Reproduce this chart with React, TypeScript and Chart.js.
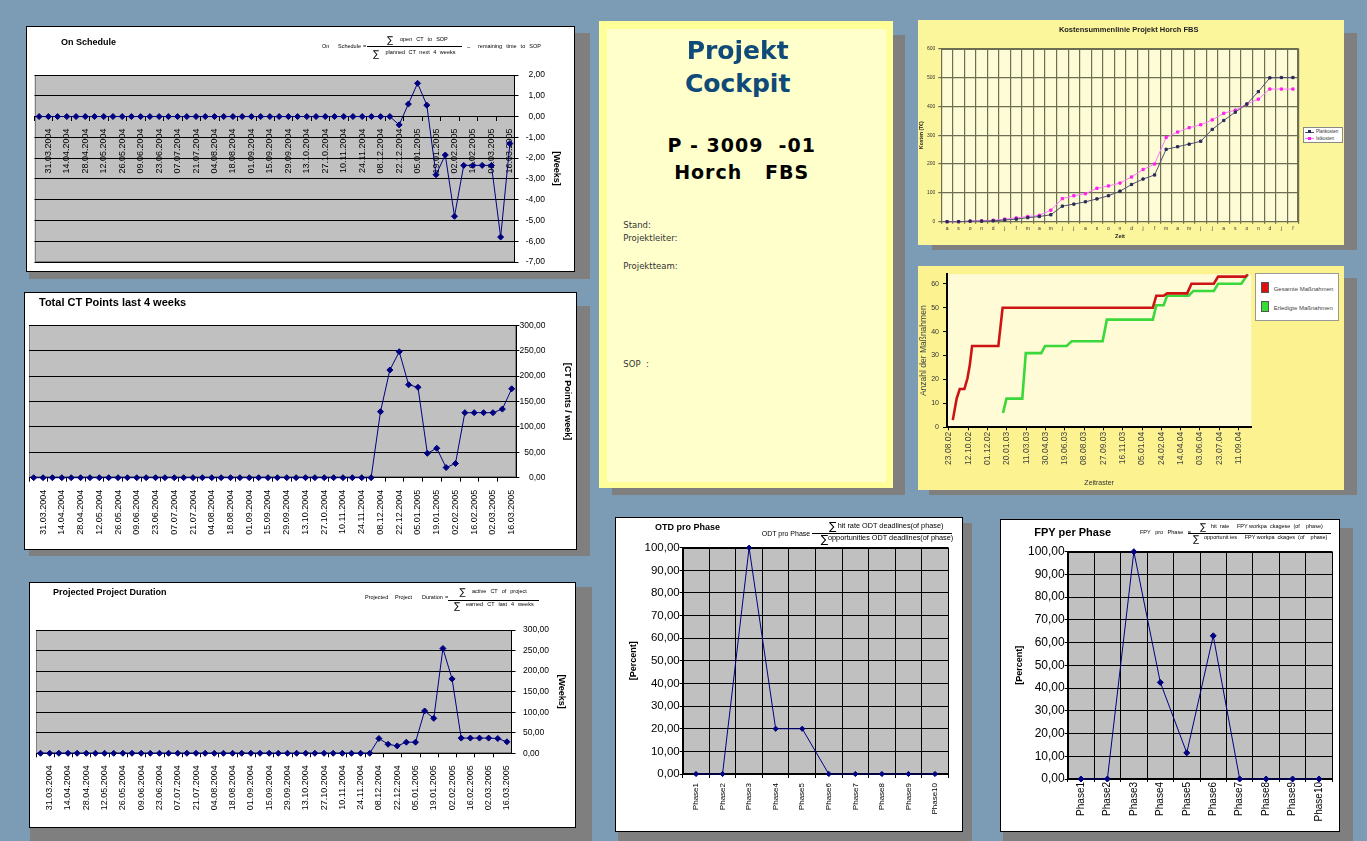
import React, { useEffect, useRef } from 'react';
import { Chart, registerables } from 'chart.js';

Chart.register(...registerables);

const ARIAL = "'Liberation Sans', Arial, Helvetica, sans-serif";
const DEJAVU = "'DejaVu Sans', Verdana, sans-serif";
Chart.defaults.font.family = ARIAL;
Chart.defaults.color = '#000';

// ---------------- data ----------------
const weekDates = [
  '24.03.2004', '31.03.2004', '07.04.2004', '14.04.2004', '21.04.2004', '28.04.2004', '05.05.2004', '12.05.2004',
  '19.05.2004', '26.05.2004', '02.06.2004', '09.06.2004', '16.06.2004', '23.06.2004', '30.06.2004', '07.07.2004',
  '14.07.2004', '21.07.2004', '28.07.2004', '04.08.2004', '11.08.2004', '18.08.2004', '25.08.2004', '01.09.2004',
  '08.09.2004', '15.09.2004', '22.09.2004', '29.09.2004', '06.10.2004', '13.10.2004', '20.10.2004', '27.10.2004',
  '03.11.2004', '10.11.2004', '17.11.2004', '24.11.2004', '01.12.2004', '08.12.2004', '15.12.2004', '22.12.2004',
  '29.12.2004', '05.01.2005', '12.01.2005', '19.01.2005', '26.01.2005', '02.02.2005', '09.02.2005', '16.02.2005',
  '23.02.2005', '02.03.2005', '09.03.2005', '16.03.2005',
];

const onScheduleWeeks = [
  0, 0, 0, 0, 0, 0, 0, 0, 0, 0, 0, 0, 0,
  0, 0, 0, 0, 0, 0, 0, 0, 0, 0, 0, 0, 0,
  0, 0, 0, 0, 0, 0, 0, 0, 0, 0, 0, 0, 0,
  -0.4, 0.6, 1.6, 0.55, -2.8, -1.85, -4.8, -2.35, -2.35, -2.35, -2.35, -5.8, -1.3,
];

const totalCtPoints = [
  0, 0, 0, 0, 0, 0, 0, 0, 0, 0, 0, 0, 0,
  0, 0, 0, 0, 0, 0, 0, 0, 0, 0, 0, 0, 0,
  0, 0, 0, 0, 0, 0, 0, 0, 0, 0, 0,
  130, 212, 248, 183, 178, 48, 58, 20, 28, 128, 128, 128, 128, 135, 175,
];

const projectedDuration = [
  0, 0, 0, 0, 0, 0, 0, 0, 0, 0, 0, 0, 0,
  0, 0, 0, 0, 0, 0, 0, 0, 0, 0, 0, 0, 0,
  0, 0, 0, 0, 0, 0, 0, 0, 0, 0, 0,
  36, 22, 18, 27, 27, 103, 85, 255, 181, 37, 37, 37, 37, 36, 28,
];

const phaseLabels = ['Phase1', 'Phase2', 'Phase3', 'Phase4', 'Phase5', 'Phase6', 'Phase7', 'Phase8', 'Phase9', 'Phase10'];
const otdPercent = [0, 0, 100, 20, 20, 0, 0, 0, 0, 0];
const fpyPercent = [0, 0, 100, 42.5, 11.5, 63, 0, 0, 0, 0];

const kostenMonths = [
  'a', 's', 'o', 'n', 'd', 'j', 'f', 'm', 'a', 'm', 'j', 'j', 'a', 's', 'o', 'n',
  'd', 'j', 'f', 'm', 'a', 'm', 'j', 'j', 'a', 's', 'o', 'n', 'd', 'j', 'f',
];
const planKosten = [0, 0, 2, 2, 3, 6, 9, 14, 18, 24, 54, 61, 69, 79, 90, 106, 129, 148, 162, 251, 260, 269, 279, 320, 351, 380, 408, 451, 499, 500, 500];
const istKosten = [0, 0, 2, 3, 5, 9, 13, 18, 22, 40, 80, 90, 97, 116, 124, 134, 155, 181, 200, 292, 311, 326, 336, 353, 376, 387, 408, 425, 460, 460, 460];

const massTickDays = [0, 50, 100, 150, 200, 250, 300, 350, 400, 450, 500, 550, 600, 650, 700, 750];
const massTickLabels = [
  '23.08.02', '12.10.02', '01.12.02', '20.01.03', '11.03.03', '30.04.03', '19.06.03', '08.08.03',
  '27.09.03', '16.11.03', '05.01.04', '24.02.04', '14.04.04', '03.06.04', '23.07.04', '11.09.04',
];
const gesamtDays = [10, 20, 28, 40, 48, 54, 60, 128, 139, 528, 537, 556, 565, 617, 628, 686, 697, 768, 774];
const gesamtCount = [3, 12, 16, 16, 20.5, 26, 34, 34, 50, 50, 55, 55, 56, 56, 60, 60, 63, 63, 64];
const erledigtDays = [140, 149, 190, 199, 239, 249, 305, 318, 398, 409, 528, 537, 556, 565, 621, 633, 686, 697, 757, 774];
const erledigtCount = [6, 12, 12, 31, 31, 34, 34, 36, 36, 45, 45, 51, 51, 55, 55, 57, 57, 60, 60, 64];

// ---------------- styling ----------------
const NAVY = '#000080';
const PLOT_GRAY = '#c0c0c0';
const PAGE_BG = 'rgb(124,155,181)';
const SHADOW = '#7f7f7f';
const fmt2 = (v: number) => v.toFixed(2).replace('.', ',');

const plotArea = {
  id: 'plotArea',
  beforeDraw(chart: any, _args: any, opts: any) {
    const { ctx, chartArea: a } = chart;
    if (!a) return;
    ctx.save();
    if (opts.fill) {
      ctx.fillStyle = opts.fill;
      ctx.fillRect(a.left, a.top, a.right - a.left, a.bottom - a.top);
    }
    if (opts.stroke) {
      ctx.strokeStyle = opts.stroke;
      ctx.lineWidth = 1;
      ctx.strokeRect(Math.round(a.left) + 0.5, Math.round(a.top) + 0.5, Math.round(a.right - a.left) - 1, Math.round(a.bottom - a.top) - 1);
    }
    ctx.restore();
  },
};

const excelLine = (data: number[], r: number) => ({
  data,
  borderColor: NAVY,
  backgroundColor: NAVY,
  borderWidth: 1,
  pointStyle: 'rectRot',
  pointRadius: r,
  pointBorderWidth: 1,
  pointBorderColor: NAVY,
  pointBackgroundColor: NAVY,
  tension: 0,
  clip: false,
});

function weekChart(values: number[], o: any) {
  return {
    type: 'line',
    data: { labels: weekDates, datasets: [excelLine(values, 3)] },
    options: {
      responsive: false,
      animation: false,
      events: [],
      layout: { padding: o.pad },
      plugins: { legend: { display: false }, tooltip: { enabled: false }, plotArea: { fill: PLOT_GRAY, stroke: '#808080' } },
      scales: {
        x: {
          type: 'category',
          position: o.xAtZero ? { y: 0 } : 'bottom',
          offset: true,
          grid: {
            offset: true,
            drawOnChartArea: false,
            drawTicks: true,
            tickLength: 4,
            color: (c: any) => (c.index % 2 === 0 ? '#000' : 'rgba(0,0,0,0)'),
          },
          border: { display: true, color: '#000', width: 1 },
          ticks: {
            autoSkip: false,
            minRotation: 90,
            maxRotation: 90,
            padding: 8,
            color: '#000',
            font: { size: 9 },
            callback: (_v: any, i: number) => (i % 2 === 1 ? weekDates[i] : ''),
          },
          afterFit: o.xHeight ? (s: any) => { s.height = o.xHeight; } : undefined,
        },
        y: {
          position: 'right',
          min: o.yMin,
          max: o.yMax,
          grid: { color: '#000', lineWidth: 1, tickLength: o.tickLen },
          border: { color: '#000' },
          ticks: {
            stepSize: o.step,
            crossAlign: o.align,
            padding: o.tickPad,
            color: '#000',
            font: { size: 8.5 },
            callback: (v: any) => fmt2(Number(v)),
          },
          title: {
            display: true,
            text: o.yTitle,
            color: '#000',
            font: { size: 9, weight: 'bold' },
            padding: { top: o.titlePad, bottom: 0 },
          },
          afterFit: (s: any) => { s.width = o.yWidth; },
        },
      },
    },
    plugins: [plotArea],
  };
}

function phaseChart(values: number[], o: any) {
  return {
    type: 'line',
    data: { labels: phaseLabels, datasets: [excelLine(values, o.pr)] },
    options: {
      responsive: false,
      animation: false,
      events: [],
      layout: { padding: o.pad },
      plugins: { legend: { display: false }, tooltip: { enabled: false }, plotArea: { fill: PLOT_GRAY, stroke: '#000' } },
      scales: {
        x: {
          type: 'category',
          offset: true,
          grid: { offset: true, color: '#000', tickLength: o.xTickLen },
          border: { color: '#000' },
          ticks: { autoSkip: false, minRotation: 90, maxRotation: 90, padding: o.xPad, color: '#000', font: { size: o.xFont } },
          afterFit: (s: any) => { s.height = o.xHeight; },
        },
        y: {
          position: 'left',
          min: 0,
          max: 100,
          grid: { color: '#000', tickLength: 3 },
          border: { color: '#000' },
          ticks: { stepSize: 10, padding: 0, color: '#000', font: { size: o.yFont }, callback: (v: any) => fmt2(Number(v)) },
          title: { display: true, text: '[Percent]', color: '#000', font: { size: 9, weight: 'bold' }, padding: { top: o.titlePad, bottom: 0 } },
          afterFit: (s: any) => { s.width = o.yWidth; },
        },
      },
    },
    plugins: [plotArea],
  };
}

const OLIVE = '#6e6e52';

function kostenChart() {
  return {
    type: 'line',
    data: {
      labels: kostenMonths,
      datasets: [
        { label: 'Plankosten', data: planKosten, borderColor: '#505070', backgroundColor: '#2a2a5a', pointBorderColor: '#2a2a5a', borderWidth: 1, pointStyle: 'rect', pointRadius: 1.6, tension: 0, clip: false },
        { label: 'Istkosten', data: istKosten, borderColor: '#ff77ff', backgroundColor: '#ff22ee', pointBorderColor: '#ff22ee', borderWidth: 1, pointStyle: 'rect', pointRadius: 1.6, tension: 0, clip: false },
      ],
    },
    options: {
      responsive: false,
      animation: false,
      events: [],
      layout: { padding: { left: 0, top: 28.7, right: 45.3, bottom: 0 } },
      plugins: { legend: { display: false }, tooltip: { enabled: false }, plotArea: { fill: '#fdfcd6', stroke: OLIVE } },
      scales: {
        x: {
          type: 'category',
          offset: true,
          grid: { offset: true, color: OLIVE, lineWidth: 1.2, tickLength: 2 },
          border: { color: OLIVE },
          ticks: { autoSkip: false, maxRotation: 0, minRotation: 0, padding: 2, color: '#333', font: { size: 5 } },
          title: { display: true, text: 'Zeit', color: '#222', font: { size: 5.5, weight: 'bold' }, padding: { top: 0, bottom: 5 } },
          afterFit: (s: any) => { s.height = 23.3; },
        },
        y: {
          min: 0,
          max: 600,
          grid: { color: OLIVE, lineWidth: 1.2, tickLength: 3 },
          border: { color: OLIVE },
          ticks: { stepSize: 100, padding: 3, color: '#333', font: { size: 5 } },
          title: { display: true, text: 'Kosten (T€)', color: '#222', font: { size: 5, weight: 'bold' }, padding: { top: 1, bottom: 0 } },
          afterFit: (s: any) => { s.width = 23.3; },
        },
      },
    },
    plugins: [plotArea],
  };
}

function massChart() {
  return {
    type: 'line',
    data: {
      datasets: [
        { label: 'Gesamte Maßnahmen', data: gesamtDays.map((d, i) => ({ x: d, y: gesamtCount[i] })), borderColor: '#cc1414', borderWidth: 2.6, pointRadius: 0, tension: 0 },
        { label: 'Erledigte Maßnahmen', data: erledigtDays.map((d, i) => ({ x: d, y: erledigtCount[i] })), borderColor: '#3ad83a', borderWidth: 2.6, pointRadius: 0, tension: 0 },
      ],
    },
    options: {
      responsive: false,
      animation: false,
      events: [],
      layout: { padding: { left: 0, top: 6.7, right: 92.7, bottom: 0 } },
      plugins: { legend: { display: false }, tooltip: { enabled: false }, plotArea: { fill: '#fffbd6' } },
      scales: {
        x: {
          type: 'linear',
          min: -5,
          max: 783,
          afterBuildTicks: (s: any) => { s.ticks = massTickDays.map((d) => ({ value: d })); },
          grid: { drawOnChartArea: false, tickLength: 3, color: '#000' },
          border: { color: '#000', width: 2 },
          ticks: {
            autoSkip: false,
            minRotation: 90,
            maxRotation: 90,
            padding: 1.5,
            color: '#444',
            font: { size: 8.5 },
            callback: (_v: any, i: number) => massTickLabels[i],
          },
          title: { display: true, text: 'Zeitraster', color: '#333', font: { size: 7 }, padding: { top: 0, bottom: 3.1 } },
          afterFit: (s: any) => { s.height = 62.7; },
        },
        y: {
          min: 0,
          max: 64,
          grid: { drawOnChartArea: false, tickLength: 4, color: '#000' },
          border: { color: '#000', width: 2 },
          ticks: { stepSize: 10, includeBounds: false, padding: 4, color: '#333', font: { size: 7 } },
          title: { display: true, text: 'Anzahl der Maßnahmen', color: '#444', font: { size: 8.5 }, padding: { top: 0.6, bottom: 0 } },
          afterFit: (s: any) => { s.width = 29; },
        },
      },
    },
    plugins: [plotArea],
  };
}

// ---------------- components ----------------
function ChartBox({ x, y, w, h, make }: { x: number; y: number; w: number; h: number; make: () => any }) {
  const ref = useRef<HTMLCanvasElement>(null);
  useEffect(() => {
    if (!ref.current) return;
    const chart = new Chart(ref.current, make() as any);
    return () => chart.destroy();
  }, []);
  return (
    <canvas
      ref={ref}
      width={w}
      height={h}
      style={{ position: 'absolute', left: x, top: y, width: w, height: h }}
    />
  );
}

function Box({ x, y, w, h, bg, border }: any) {
  return (
    <div
      style={{ position: 'absolute', left: x, top: y, width: w, height: h, background: bg, border, boxSizing: 'border-box' }}
    />
  );
}

function T({ x, y, s, b, c = '#000', f = ARIAL, center, ws, ls, children }: any) {
  return (
    <div
      style={{
        position: 'absolute',
        left: x,
        top: y,
        fontSize: s,
        fontWeight: b ? 700 : 400,
        color: c,
        fontFamily: f,
        whiteSpace: 'pre',
        lineHeight: 1,
        wordSpacing: ws,
        letterSpacing: ls,
        transform: center ? 'translate(-50%,-50%)' : 'translateY(-50%)',
      }}
    >
      {children}
    </div>
  );
}

function HLine({ x, y, w, c = '#000' }: any) {
  return <div style={{ position: 'absolute', left: x, top: y, width: w, height: 1, background: c }} />;
}

export default function App() {
  return (
    <div style={{ position: 'fixed', left: 0, top: 0, width: 1367, height: 841, background: PAGE_BG, overflow: 'hidden' }}>
      {/* shadows */}
      <Box x={29} y={33} w={561} h={246} bg={SHADOW} />
      <Box x={29} y={306} w={561} h={250} bg={SHADOW} />
      <Box x={30} y={587} w={562} h={254} bg={SHADOW} />
      <Box x={612} y={35} w={293} h={460} bg={SHADOW} />
      <Box x={932} y={33} w={425} h={217} bg={SHADOW} />
      <Box x={929} y={278} w={428} h={217} bg={SHADOW} />
      <Box x={618} y={523} w={354} h={318} bg={SHADOW} />
      <Box x={1003} y={528} w={350} h={313} bg={SHADOW} />

      {/* panels */}
      <Box x={26} y={26} w={549} h={246} bg="#fff" border="1px solid #000" />
      <Box x={24} y={292} w={553} h={258} bg="#fff" border="1px solid #000" />
      <Box x={29} y={582} w={547} h={246} bg="#fff" border="1px solid #000" />
      <Box x={599} y={21} w={294} h={467} bg="#ffff99" />
      <Box x={607} y={29} w={279} h={453} bg="#ffffcc" />
      <Box x={918} y={20} w={426} h={225} bg="#fbf59c" />
      <Box x={918} y={266} w={426} h={224} bg="#fcf290" />
      <Box x={615} y={517} w={348} h={315} bg="#fff" border="1px solid #000" />
      <Box x={1000} y={519} w={340} h={313} bg="#fff" border="1px solid #000" />

      {/* charts */}
      <ChartBox
        x={26} y={26} w={549} h={246}
        make={() => weekChart(onScheduleWeeks, {
          yMin: -7, yMax: 2, step: 1, yTitle: '[Weeks]', xAtZero: true,
          pad: { left: 8.5, top: 49, right: 30, bottom: 10 }, yWidth: 30.5, titlePad: -16.4,
          align: 'far', tickLen: 4, tickPad: 3,
        })}
      />
      <ChartBox
        x={24} y={292} w={553} h={258}
        make={() => weekChart(totalCtPoints, {
          yMin: 0, yMax: 300, step: 50, yTitle: '[CT Points / week]',
          pad: { left: 2, top: 33.3, right: 31.5, bottom: 0 }, yWidth: 29.1, xHeight: 72.3, titlePad: -26.9,
          align: 'far', tickLen: 3, tickPad: 0,
        })}
      />
      <ChartBox
        x={29} y={582} w={547} h={246}
        make={() => weekChart(projectedDuration, {
          yMin: 0, yMax: 300, step: 50, yTitle: '[Weeks]',
          pad: { left: 7, top: 48, right: 0, bottom: 0 }, yWidth: 64.5, xHeight: 74.7, titlePad: 8.9,
          align: 'near', tickLen: 4, tickPad: 7.5,
        })}
      />
      <ChartBox
        x={615} y={517} w={348} h={315}
        make={() => phaseChart(otdPercent, {
          pad: { left: 0, top: 30.7, right: 14.7, bottom: 0 }, yWidth: 67.7, xHeight: 58, titlePad: 13.6,
          xTickLen: 4, xPad: 5, xFont: 8, yFont: 11.5, pr: 2.6,
        })}
      />
      <ChartBox
        x={1000} y={519} w={340} h={313}
        make={() => phaseChart(fpyPercent, {
          pad: { left: 0, top: 32.7, right: 7.7, bottom: 0 }, yWidth: 67.7, xHeight: 53, titlePad: 14.6,
          xTickLen: 3, xPad: 0, xFont: 10, yFont: 12, pr: 3,
        })}
      />
      <ChartBox x={918} y={20} w={426} h={225} make={kostenChart} />
      <ChartBox x={918} y={266} w={426} h={224} make={massChart} />

      {/* ---- On Schedule texts ---- */}
      <T x={61} y={42} s={9} b>On Schedule</T>
      <T x={322} y={47} s={5.5}>On</T>
      <T x={338} y={47} s={5.5}>Schedule</T>
      <T x={363} y={47} s={5.5}>=</T>
      <HLine x={367} y={46} w={95} />
      <T x={387} y={40} s={9} f={DEJAVU}>∑</T>
      <T x={400} y={40} s={5.5} ws={2.5}>open CT to SOP</T>
      <T x={373} y={53.5} s={9} f={DEJAVU}>∑</T>
      <T x={385.5} y={53.3} s={5.5} ws={2}>planned CT next 4 weeks</T>
      <T x={467} y={47} s={6}>−</T>
      <T x={478} y={47} s={5.5} ws={2.5}>remaining time to SOP</T>

      {/* ---- Total CT texts ---- */}
      <T x={39} y={302} s={11} b>Total CT Points last 4 weeks</T>

      {/* ---- Projected Project Duration texts ---- */}
      <T x={53} y={592} s={9} b>Projected Project Duration</T>
      <T x={365} y={598.3} s={5.5}>Projected</T>
      <T x={395} y={598.3} s={5.5}>Project</T>
      <T x={422} y={598.3} s={5.5}>Duration</T>
      <T x={445} y={598.3} s={5.5}>=</T>
      <HLine x={448} y={600} w={91} />
      <T x={459.5} y={591.7} s={9} f={DEJAVU}>∑</T>
      <T x={472} y={592} s={5.5} ws={2.5}>active CT of project</T>
      <T x={454} y={605.5} s={9} f={DEJAVU}>∑</T>
      <T x={466} y={605} s={5.5} ws={2.5}>earned CT last 4 weeks</T>

      {/* ---- Projekt Cockpit ---- */}
      <T x={737.7} y={50} s={25} b c="#0f4a78" f={DEJAVU} center>Projekt</T>
      <T x={737.7} y={83.3} s={25} b c="#0f4a78" f={DEJAVU} center>Cockpit</T>
      <T x={741.7} y={145} s={19} b f={DEJAVU} ls={1} center>P - 3009  -01</T>
      <T x={741.7} y={172.3} s={19} b f={DEJAVU} ls={1} center>Horch   FBS</T>
      <T x={623.3} y={225} s={8.5} c="#333" f={DEJAVU}>Stand:</T>
      <T x={623.3} y={237.7} s={8.5} c="#333" f={DEJAVU}>Projektleiter:</T>
      <T x={623.3} y={265.7} s={8.5} c="#333" f={DEJAVU}>Projektteam:</T>
      <T x={623.3} y={363.7} s={8.5} c="#333" f={DEJAVU}>SOP  :</T>

      {/* ---- Kostensummenlinie ---- */}
      <T x={1128.7} y={30} s={7.5} b c="#222" center>Kostensummenlinie Projekt Horch FBS</T>
      <div style={{ position: 'absolute', left: 1303, top: 127, width: 40, height: 16, background: '#fff', border: '1px solid #888', boxSizing: 'border-box' }} />
      <HLine x={1305} y={131.5} w={9} c="#505070" />
      <div style={{ position: 'absolute', left: 1308.3, top: 130.3, width: 3, height: 3, background: '#2a2a5a' }} />
      <T x={1316} y={132} s={4.5} c="#333">Plankosten</T>
      <HLine x={1305} y={138} w={9} c="#ff77ff" />
      <div style={{ position: 'absolute', left: 1308.3, top: 136.8, width: 3, height: 3, background: '#ff22ee' }} />
      <T x={1316} y={138.5} s={4.5} c="#333">Istkosten</T>

      {/* ---- Maßnahmen legend ---- */}
      <div style={{ position: 'absolute', left: 1255, top: 273, width: 84, height: 48, background: '#fff', border: '1px solid #999', boxSizing: 'border-box' }} />
      <div style={{ position: 'absolute', left: 1261, top: 282, width: 8, height: 10.5, background: '#dd1111', border: '1px solid #555', boxSizing: 'border-box' }} />
      <T x={1273.7} y={289} s={6} c="#444">Gesamte Maßnahmen</T>
      <div style={{ position: 'absolute', left: 1261, top: 301, width: 8, height: 10.5, background: '#33dd33', border: '1px solid #555', boxSizing: 'border-box' }} />
      <T x={1273.7} y={308} s={6} c="#444">Erledigte Maßnahmen</T>

      {/* ---- OTD texts ---- */}
      <T x={655} y={527} s={9} b>OTD pro Phase</T>
      <T x={761.7} y={532.7} s={7}>ODT pro Phase</T>
      <HLine x={811.7} y={533} w={140} />
      <T x={829} y={526} s={11} f={DEJAVU}>∑</T>
      <T x={837.7} y={526} s={7.3}>hit rate ODT deadlines(of phase)</T>
      <T x={820.7} y={539} s={11} f={DEJAVU}>∑</T>
      <T x={828} y={538.3} s={7.3}>opportunities ODT deadlines(of phase)</T>

      {/* ---- FPY texts ---- */}
      <T x={1034.3} y={531.7} s={11} b>FPY per Phase</T>
      <T x={1140} y={532.7} s={5.5} ws={3}>FPY pro Phase =</T>
      <HLine x={1188.3} y={533} w={143} />
      <T x={1200} y={526.7} s={9} f={DEJAVU}>∑</T>
      <T x={1211} y={526.7} s={5.5}>hit  rate     FPY workpa  ckagese  (of    phase)</T>
      <T x={1193} y={539} s={9} f={DEJAVU}>∑</T>
      <T x={1204} y={538.3} s={5.5}>opportunit ies     FPY workpa  ckages  (of    phase)</T>
    </div>
  );
}
